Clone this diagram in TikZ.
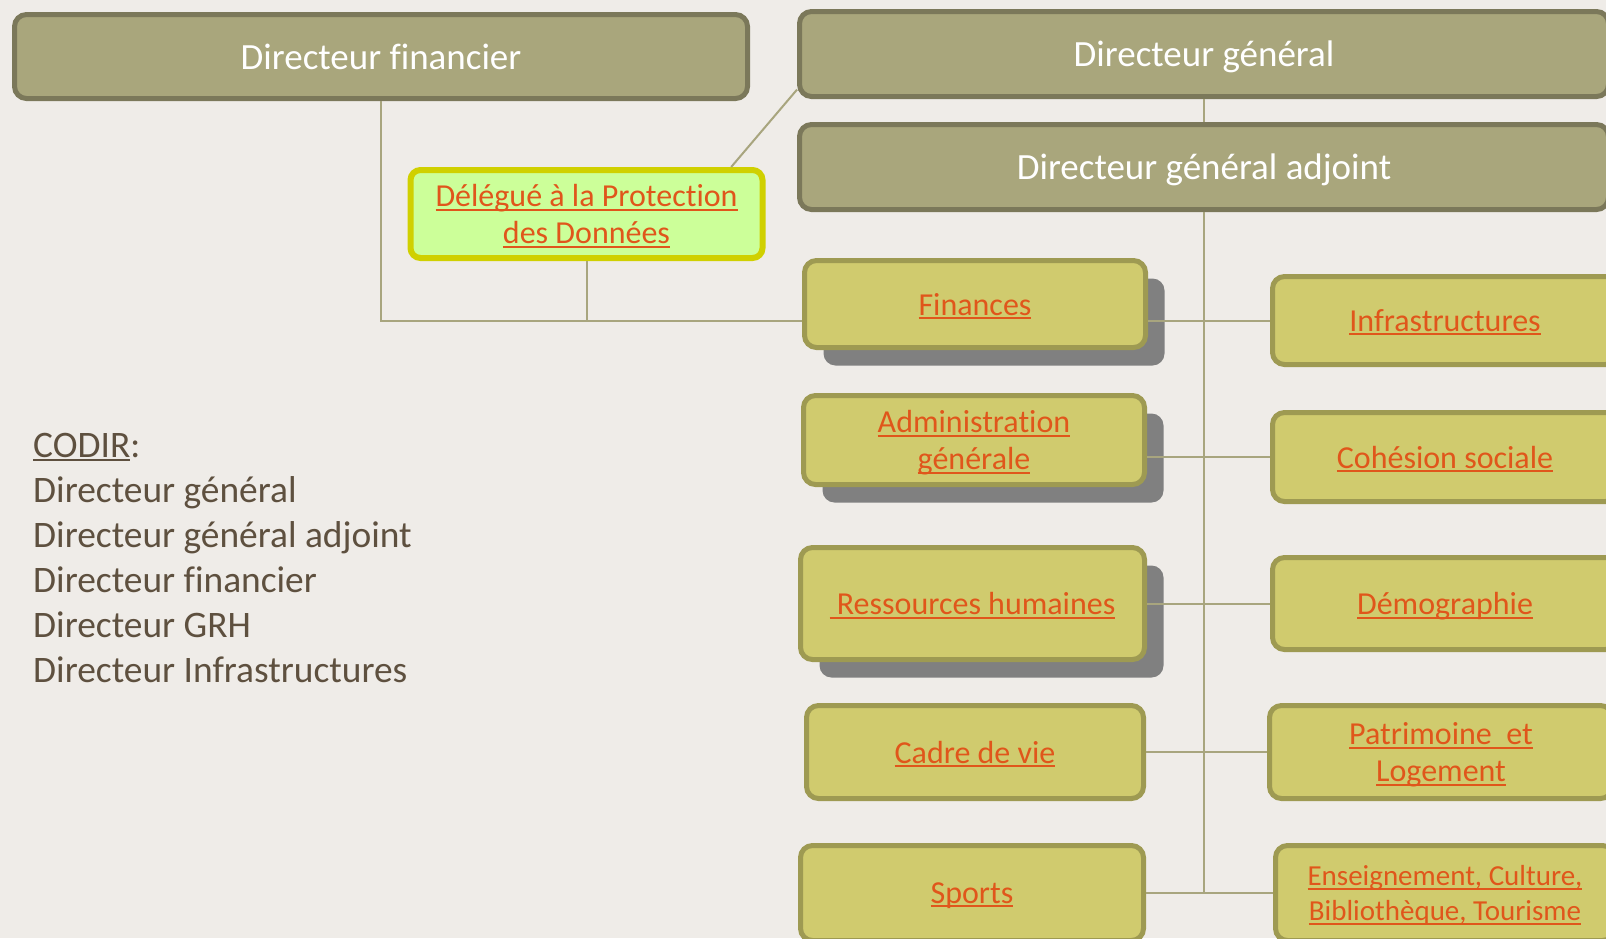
\documentclass[tikz,border=0pt]{standalone}
\usepackage{fontspec}
\setmainfont{Carlito}[RawFeature={-liga;-dlig;-calt;-clig}]
\usetikzlibrary{positioning, shadows}
\definecolor{mybg}{RGB}{239,236,232}
\definecolor{myolive}{RGB}{169,166,124}
\definecolor{myolivedark}{RGB}{123,120,90}
\definecolor{myyellow}{RGB}{208,203,110}
\definecolor{myyellowdark}{RGB}{158,154,82}
\definecolor{mygreen}{RGB}{204,255,153}
\definecolor{mylemon}{RGB}{208,208,0}
\definecolor{myorange}{RGB}{224,86,27}
\definecolor{mybrown}{RGB}{94,80,63}
\definecolor{myline}{RGB}{168,165,126}
\definecolor{myshadow}{RGB}{128,128,128}
\newsavebox\lnkbox
\newcommand{\lnk}[1]{\leavevmode\sbox\lnkbox{#1}\rlap{\rule[-4pt]{\wd\lnkbox}{2pt}}\usebox\lnkbox}
\tikzset{
  head/.style={draw=myolivedark, fill=myolive, line width=5pt, rounded corners=12pt,
    minimum width=809pt, minimum height=85pt, text=white, text depth=0pt,
    font=\fontsize{37}{44}\selectfont},
  service/.style={draw=myyellowdark, fill=myyellow, line width=5pt, rounded corners=12pt,
    minimum width=341pt, minimum height=89pt, text=myorange, align=center,
    text depth=0pt, font=\fontsize{32}{37}\selectfont},
  shade/.style={drop shadow={shadow xshift=19pt, shadow yshift=-18pt,
    fill=myshadow, opacity=1}},
  dpo/.style={service, draw=mylemon, fill=mygreen, line width=6pt, rounded corners=10pt},
  link/.style={draw=myline, line width=2pt},
  codir/.style={anchor=base west, inner sep=0, text=mybrown,
    font=\fontsize{37.4}{45}\selectfont}
}

\begin{document}
\begin{tikzpicture}[x=1pt, y=-1pt]
\fill [mybg] (0,0) rectangle (1606,938);
\useasboundingbox (0,0) rectangle (1606,938);

% direction
\node [head, minimum width=733pt, minimum height=84pt] (dirfin) at (381,56.5) {Directeur financier};
\node [head] (dirgen) at (1204,54) {Directeur général};
\node [head] (dga) at (1204,167) {Directeur général adjoint};
\node [dpo, minimum width=352pt, minimum height=88pt] (dpd) at (586.5,214)
  {\lnk{Délégué à la Protection}\\\lnk{des Données}};

% services, left column
\node [service, shade, minimum height=87pt] (finances) at (975,304) {\lnk{Finances}};
\node [service, shade] (admin) at (974,440) {\lnk{Administration}\\\lnk{générale}};
\node [service, shade, minimum width=344pt, minimum height=112pt] (rh) at (972.5,603.5) {\lnk{\ Ressources humaines}};
\node [service, minimum width=337pt, minimum height=93pt] (cadre) at (975,752) {\lnk{Cadre de vie}};
\node [service, minimum width=343pt, minimum height=95pt] (sports) at (972,893) {\lnk{Sports}};

% services, right column
\node [service, minimum width=345pt, minimum height=88pt] (infra) at (1445,320.5) {\lnk{Infrastructures}};
\node [service, minimum width=345pt] (cohesion) at (1445,457) {\lnk{Cohésion sociale}};
\node [service, minimum width=345pt, minimum height=92pt] (demo) at (1445,603.5) {\lnk{Démographie}};
\node [service, minimum width=343pt, minimum height=93pt] (patri) at (1441,752) {\lnk{Patrimoine\ \ et}\\\lnk{Logement}};
\node [service, minimum width=339pt, minimum height=95pt, font=\fontsize{29}{35}\selectfont] (enseign) at (1445,893)
  {\lnk{Enseignement, Culture,}\\\lnk{Bibliothèque, Tourisme}};

% links
\draw [link] (dirfin.south) |- (finances.west |- infra.west);
\draw [link] (dpd.south) -- (dpd.south |- infra.west);
\draw [link] (dpd.18) -- (dirgen.185);
\draw [link] (dirgen.south) -- (dga.north);
\draw [link] (dga.south) -- (dga.south |- enseign.west);
\draw [link] (finances.east |- infra.west) -- (infra.west);
\draw [link] (admin.east |- cohesion.west) -- (cohesion.west);
\draw [link] (rh.east) -- (demo.west);
\draw [link] (cadre.east) -- (patri.west);
\draw [link] (sports.east |- enseign.west) -- (enseign.west);

% CODIR
\foreach \txt [count=\i from 0] in {{\lnk{CODIR}:}, Directeur général,
    Directeur général adjoint, Directeur financier, Directeur GRH,
    Directeur Infrastructures}
  \node [codir] (codir\i) at (33,457+45*\i) {\txt};
\end{tikzpicture}
\end{document}
